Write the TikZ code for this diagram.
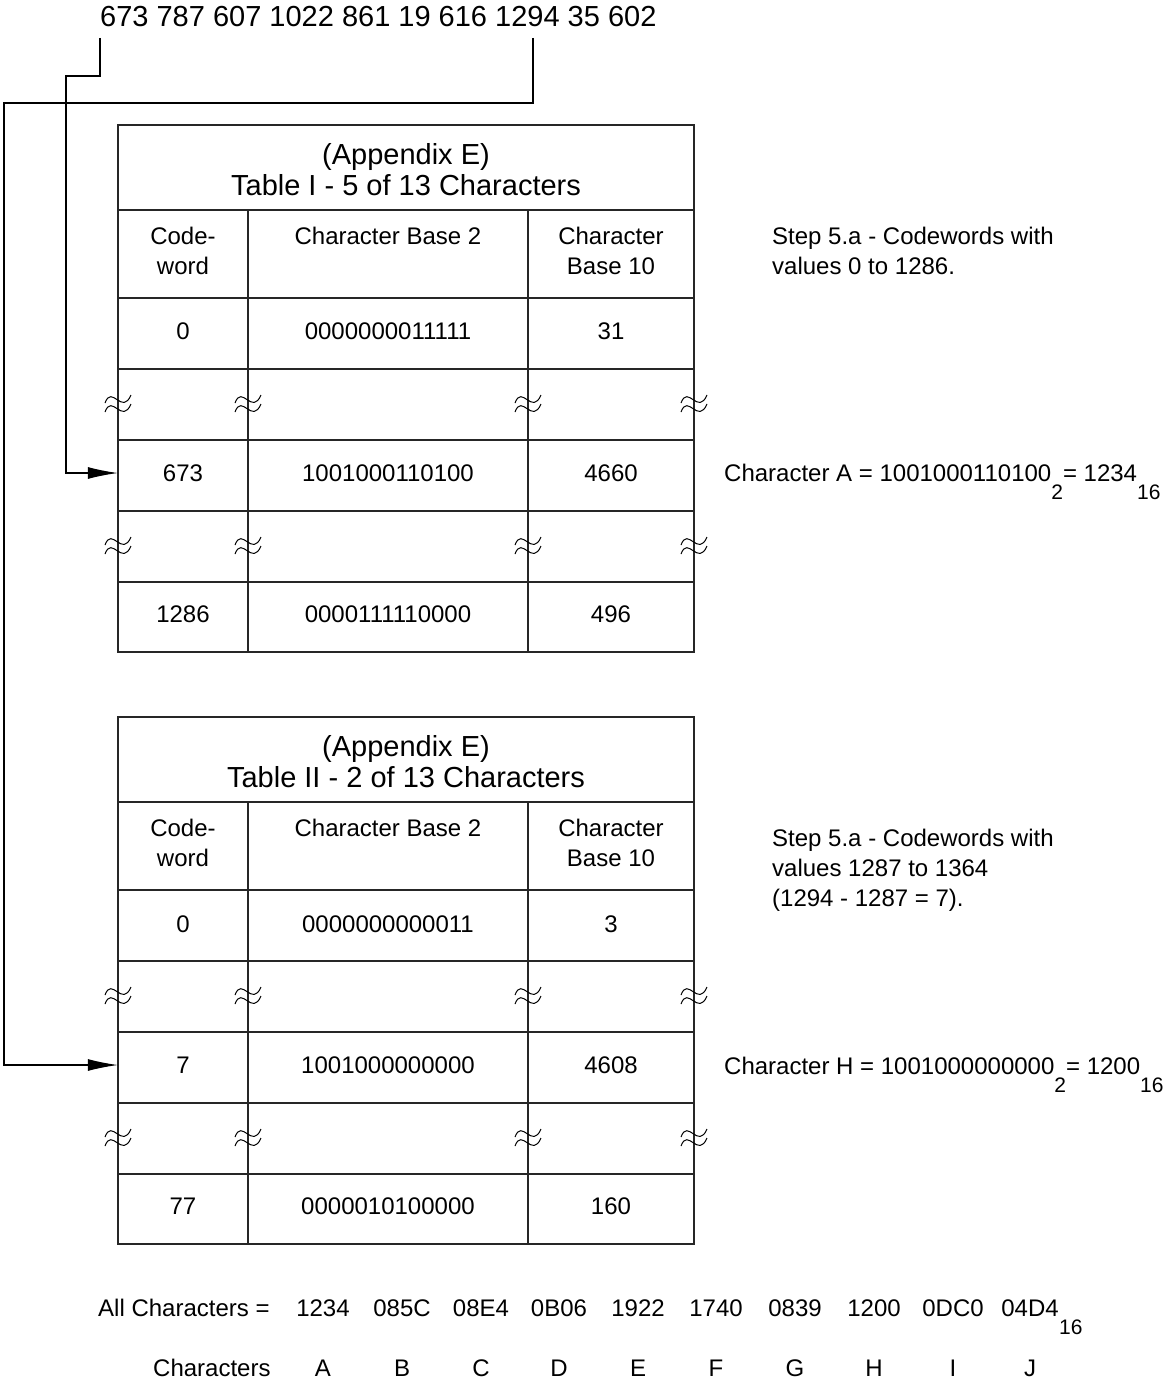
\documentclass[tikz,border=0pt]{standalone}
\usepackage{fontspec}
\setmainfont{Liberation Sans}
\usetikzlibrary{arrows.meta}
\usetikzlibrary{positioning}

\tikzset{
  grid line/.style={black!85, line width=1.3pt},
  cell/.style={font=\fontsize{24}{30}\selectfont, align=center, inner sep=0pt},
  ttl/.style={font=\fontsize{29}{31}\selectfont, align=center, inner sep=0pt},
  note/.style={font=\fontsize{24}{30}\selectfont, align=left, inner sep=0pt},
  link/.style={black, line width=1.1pt, -{Latex[length=30pt,width=12pt]}},
  brk/.pic={
    \draw[black, line width=1pt] (-13,3) .. controls (-6,-16) and (4,16) .. (13,-5);
    \draw[black, line width=1pt] (-13,12) .. controls (-6,-7) and (4,25) .. (13,4);
  }
}
\newcommand{\lowsub}[1]{\raisebox{-18pt}{\fontsize{21}{21}\selectfont #1}}

\begin{document}
\begin{tikzpicture}[x=1pt, y=-1pt]
\useasboundingbox (0,0) rectangle (1166,1381);

\node[ttl, anchor=base west] (codes) at (100,27) {673 787 607 1022 861 19 616 1294 35 602};

\foreach \dy in {0,592} {
  \begin{scope}[shift={(0,\dy)}]
    \draw[grid line] (118,125) rectangle (694,652);
    \foreach \y in {210,298,369,440,511,582}
      \draw[grid line] (118,\y) -- (694,\y);
    \draw[grid line] (248,210) -- (248,652);
    \draw[grid line] (528,210) -- (528,652);
    \foreach \xc in {118,248,528,694} {
      \pic at (\xc,400) {brk};
      \pic at (\xc,542) {brk};
    }
  \end{scope}
}

% table I
\node[ttl] (ttlI) at (406,170) {(Appendix E)\\Table I - 5 of 13 Characters};
\node[cell] (hdIa) at (183,251) {Code-\\word};
\node[cell] (hdIb) at (388,236) {Character Base 2};
\node[cell] (hdIc) at (611,251) {Character\\Base 10};
\node[cell] (cwI0) at (183,331) {0};
\node[cell] (bnI0) at (388,331) {0000000011111};
\node[cell] (dcI0) at (611,331) {31};
\node[cell, minimum width=130pt, minimum height=71pt] (cwIa) at (183,473) {673};
\node[cell] (bnIa) at (388,473) {1001000110100};
\node[cell] (dcIa) at (611,473) {4660};
\node[cell] (cwIz) at (183,614) {1286};
\node[cell] (bnIz) at (388,614) {0000111110000};
\node[cell] (dcIz) at (611,614) {496};

% table II
\node[ttl] (ttlII) at (406,762) {(Appendix E)\\Table II - 2 of 13 Characters};
\node[cell] (hdIIa) at (183,843) {Code-\\word};
\node[cell] (hdIIb) at (388,828) {Character Base 2};
\node[cell] (hdIIc) at (611,843) {Character\\Base 10};
\node[cell] (cwII0) at (183,924) {0};
\node[cell] (bnII0) at (388,924) {0000000000011};
\node[cell] (dcII0) at (611,924) {3};
\node[cell, minimum width=130pt, minimum height=71pt] (cwIIa) at (183,1065) {7};
\node[cell] (bnIIa) at (388,1065) {1001000000000};
\node[cell] (dcIIa) at (611,1065) {4608};
\node[cell] (cwIIz) at (183,1206) {77};
\node[cell] (bnIIz) at (388,1206) {0000010100000};
\node[cell] (dcIIz) at (611,1206) {160};

% notes
\node[note, anchor=north west] (stepI) at (772,227) {Step 5.a - Codewords with\\values 0 to 1286.};
\node[note, anchor=base west] (chA) at (724,481) {Character A = 1001000110100\lowsub{2}= 1234\lowsub{16}};
\node[note, anchor=north west] (stepII) at (772,829) {Step 5.a - Codewords with\\values 1287 to 1364\\(1294 - 1287 = 7).};
\node[note, anchor=base west] (chH) at (724,1074) {Character H = 1001000000000\lowsub{2}= 1200\lowsub{16}};

% links
\coordinate (sA) at (100,38);
\coordinate (kA) at (66,76);
\coordinate (sH) at (533,38);
\coordinate (kH) at (4,103);
\draw[link] (sA) |- (kA) |- (cwIa.west);
\draw[link] (sH) |- (kH) |- (cwIIa.west);

% result
\node[note, anchor=base west] (allch) at (98,1316) {All Characters =};
\node[note, anchor=base west] (chars) at (153,1376) {Characters};
\foreach \v/\c/\x [count=\i] in {1234/A/323, 085C/B/402, 08E4/C/481, 0B06/D/559, 1922/E/638,
    1740/F/716, 0839/G/795, 1200/H/874, 0DC0/I/953, 04D4/J/1030} {
  \node[note, anchor=base] (hex\i) at (\x,1316) {\v};
  \node[note, anchor=base] (let\i) at (\x,1376) {\c};
}
\node[note, anchor=base west, font=\fontsize{21}{21}\selectfont] (sub16) at (hex10.base east) [yshift=-18pt] {16};
\end{tikzpicture}
\end{document}
